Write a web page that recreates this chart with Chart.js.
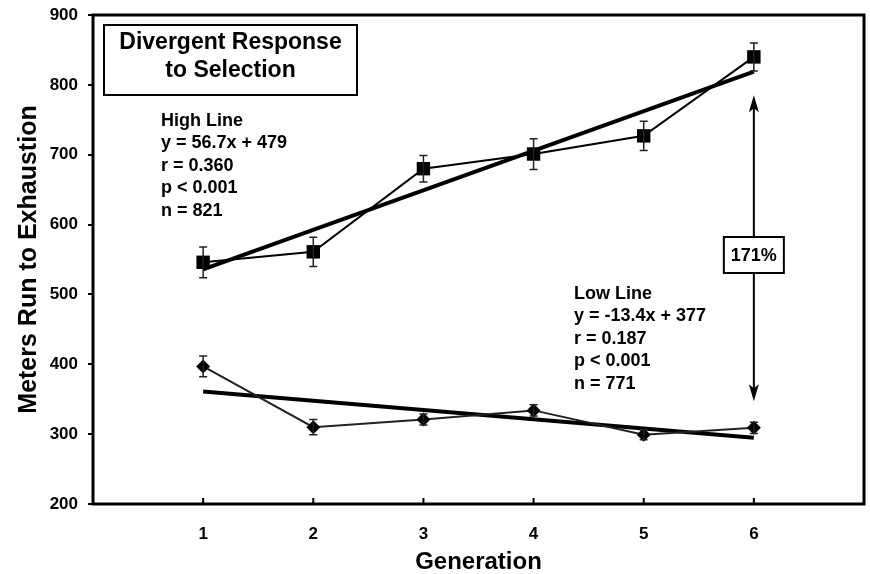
<!DOCTYPE html>
<html lang="en">
<head>
  <meta charset="UTF-8">
  <title>Divergent Response to Selection</title>
  <script src="https://cdn.jsdelivr.net/npm/chart.js"></script>
  <style>
    body {
      margin: 0;
      background: #fff;
    }
    #wrap {
      width: 870px;
      height: 574px;
    }
  </style>
</head>
<body>
  <div id="wrap"><canvas id="chart" width="870" height="574"></canvas></div>

  <script>
    // values
    const generations = [1, 2, 3, 4, 5, 6];
    const highMeans = [546, 561, 680, 701, 727, 840];
    const highErr = [22, 21, 19, 22, 21, 20];
    const lowMeans = [397, 310, 321, 334, 299, 309];
    const lowErr = [15, 11, 8, 8, 7, 8];
    // regression lines (end points at generation 1 and 6)
    const highFit = [536, 819];
    const lowFit = [361, 295];
    const fitX = [1, 6];
    // 171% arrow between the two lines at generation 6
    const arrowX = 6;
    const arrowRange = [347, 785];
    const yTicks = [200, 300, 400, 500, 600, 700, 800, 900];

    const highText = ['High Line', 'y = 56.7x + 479', 'r = 0.360', 'p < 0.001', 'n = 821'];
    const lowText = ['Low Line', 'y = -13.4x + 377', 'r = 0.187', 'p < 0.001', 'n = 771'];

    const FONT = '"Liberation Sans", Arial, Helvetica, sans-serif';

    const pts = (xs, ys) => xs.map((x, i) => ({x: x, y: ys[i]}));

    // frame, inward x ticks, error bars, arrow and text boxes
    const extras = {
      id: 'extras',
      afterDatasetsDraw(chart) {
        const ctx = chart.ctx;
        const xs = chart.scales.x, ys = chart.scales.y;
        const a = chart.chartArea;
        ctx.save();

        // error bars
        ctx.strokeStyle = '#222';
        ctx.lineWidth = 1.5;
        [[highMeans, highErr], [lowMeans, lowErr]].forEach(([m, e]) => {
          generations.forEach((g, i) => {
            const px = xs.getPixelForValue(g);
            const top = ys.getPixelForValue(m[i] + e[i]);
            const bot = ys.getPixelForValue(m[i] - e[i]);
            ctx.beginPath();
            ctx.moveTo(px, top); ctx.lineTo(px, bot);
            ctx.moveTo(px - 4, top); ctx.lineTo(px + 4, top);
            ctx.moveTo(px - 4, bot); ctx.lineTo(px + 4, bot);
            ctx.stroke();
          });
        });

        // frame
        ctx.strokeStyle = '#000';
        ctx.lineWidth = 3;
        ctx.strokeRect(a.left, a.top, a.right - a.left, a.bottom - a.top);

        // x ticks pointing inward
        ctx.lineWidth = 2;
        generations.forEach(g => {
          const px = xs.getPixelForValue(g);
          ctx.beginPath();
          ctx.moveTo(px, a.bottom);
          ctx.lineTo(px, a.bottom - 6);
          ctx.stroke();
        });

        // double arrow
        const ax = xs.getPixelForValue(arrowX);
        const yLo = ys.getPixelForValue(arrowRange[0]);
        const yHi = ys.getPixelForValue(arrowRange[1]);
        ctx.lineWidth = 2;
        ctx.beginPath();
        ctx.moveTo(ax, yHi + 10); ctx.lineTo(ax, yLo - 10);
        ctx.stroke();
        ctx.fillStyle = '#000';
        ctx.beginPath();
        ctx.moveTo(ax, yHi); ctx.lineTo(ax - 5, yHi + 17); ctx.lineTo(ax, yHi + 13); ctx.lineTo(ax + 5, yHi + 17);
        ctx.closePath(); ctx.fill();
        ctx.beginPath();
        ctx.moveTo(ax, yLo); ctx.lineTo(ax - 5, yLo - 17); ctx.lineTo(ax, yLo - 13); ctx.lineTo(ax + 5, yLo - 17);
        ctx.closePath(); ctx.fill();

        // 171% box
        ctx.fillStyle = '#fff';
        ctx.fillRect(ax - 30, 237, 60, 36);
        ctx.lineWidth = 2;
        ctx.strokeRect(ax - 30, 237, 60, 36);
        ctx.fillStyle = '#000';
        ctx.font = 'bold 18px ' + FONT;
        ctx.textAlign = 'center';
        ctx.textBaseline = 'middle';
        ctx.fillText('171%', ax, 256);

        // title box
        ctx.lineWidth = 2;
        ctx.strokeRect(104, 25, 253, 70);
        ctx.font = 'bold 23px ' + FONT;
        ctx.fillText('Divergent Response', 230.5, 43);
        ctx.fillText('to Selection', 230.5, 71);

        // regression notes
        ctx.font = 'bold 18px ' + FONT;
        ctx.textAlign = 'left';
        highText.forEach((t, i) => ctx.fillText(t, 161, 121 + i * 22.4));
        lowText.forEach((t, i) => ctx.fillText(t, 574, 294 + i * 22.4));

        ctx.restore();
      }
    };

    const ctx = document.getElementById('chart').getContext('2d');
    new Chart(ctx, {
      type: 'scatter',
      data: {
        datasets: [
          {
            data: pts(generations, highMeans),
            showLine: true,
            borderColor: '#000',
            backgroundColor: '#000',
            borderWidth: 2,
            pointStyle: 'rect',
            pointRadius: 9.5,
            pointBorderWidth: 0
          },
          {
            data: pts(generations, lowMeans),
            showLine: true,
            borderColor: '#222',
            backgroundColor: '#000',
            borderWidth: 2,
            pointStyle: 'rectRot',
            pointRadius: 7,
            pointBorderWidth: 0
          },
          {
            data: pts(fitX, highFit),
            showLine: true,
            borderColor: '#000',
            borderWidth: 4,
            pointRadius: 0
          },
          {
            data: pts(fitX, lowFit),
            showLine: true,
            borderColor: '#000',
            borderWidth: 4,
            pointRadius: 0
          }
        ]
      },
      options: {
        responsive: false,
        animation: false,
        layout: {autoPadding: false, padding: {top: 15, right: 6, left: 0, bottom: 0}},
        plugins: {legend: {display: false}, tooltip: {enabled: false}},
        scales: {
          x: {
            type: 'linear',
            min: 0,
            max: 7,
            afterFit(s) { s.height = 70; s.paddingLeft = 0; s.paddingRight = 0; },
            grid: {display: false},
            border: {display: false},
            ticks: {
              stepSize: 1,
              padding: 12,
              color: '#000',
              font: {family: FONT, size: 17, weight: 'bold'},
              callback: v => (generations.includes(v) ? String(v) : '')
            },
            title: {
              display: true,
              text: 'Generation',
              color: '#000',
              font: {family: FONT, size: 24, weight: 'bold'},
              padding: {top: 0, bottom: -3}
            }
          },
          y: {
            min: 200,
            max: 900,
            afterFit(s) { s.width = 93; s.paddingTop = 0; s.paddingBottom = 0; },
            afterBuildTicks(s) { s.ticks = yTicks.map(v => ({value: v})); },
            grid: {drawOnChartArea: false, tickLength: 5, color: '#000', lineWidth: 2},
            border: {display: false},
            ticks: {
              padding: 10,
              color: '#000',
              font: {family: FONT, size: 17, weight: 'bold'}
            },
            title: {
              display: true,
              text: 'Meters Run to Exhaustion',
              color: '#000',
              font: {family: FONT, size: 25, weight: 'bold'},
              padding: {top: 14, bottom: 0}
            }
          }
        }
      },
      plugins: [extras]
    });
  </script>
</body>
</html>
